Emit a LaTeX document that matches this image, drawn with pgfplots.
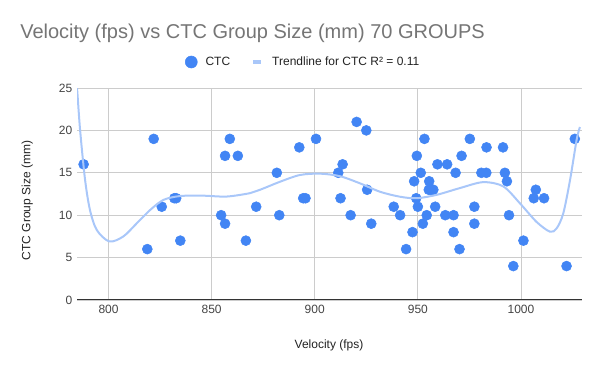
\documentclass[border=0pt]{standalone}
\usepackage{fontspec}
\setmainfont{Liberation Sans}
\usepackage{pgfplots}
\pgfplotsset{compat=1.18}
\definecolor{ctc}{HTML}{4285F4}
\definecolor{trend}{HTML}{A9C7F9}
\definecolor{titlegray}{HTML}{757575}
\definecolor{gridgray}{HTML}{CCCCCC}
\definecolor{ticktext}{HTML}{444444}
\definecolor{labeltext}{HTML}{222222}
\begin{document}
\begin{tikzpicture}
\useasboundingbox (0pt,0pt) rectangle (450pt,278.25pt);
\node[anchor=base west, inner sep=0pt, text=titlegray, font=\fontsize{15}{18}\selectfont] at (15pt,249pt) {Velocity (fps) vs CTC Group Size (mm) 70 GROUPS};
\node[rotate=90, inner sep=0pt, text=labeltext, font=\fontsize{9}{11}\selectfont] at (20.5pt,127.9pt) {CTC Group Size (mm)};
\node[anchor=base, inner sep=0pt, text=labeltext, font=\fontsize{9}{11}\selectfont] at (246.75pt,16.9pt) {Velocity (fps)};
\begin{axis}[
  at={(57.75pt,53.25pt)}, anchor=south west,
  scale only axis, width=378.75pt, height=159pt,
  xmin=784.7, xmax=1029.6, ymin=0, ymax=25,
  xtick={800,850,...,1000}, ytick={0,5,...,25},
  extra y ticks={0}, extra y tick labels={},
  extra y tick style={grid style={draw=black!80, line width=0.75pt}},
  grid=major, grid style={draw=gridgray, line width=0.6pt},
  axis line style={draw=none},
  major tick length=0pt,
  tick label style={font=\fontsize{9}{11}\selectfont, text=ticktext},
  /pgf/number format/assume math mode=true,
  /pgf/number format/1000 sep={},
  clip mode=individual,
  legend columns=2,
  legend style={at={(axis description cs:0.2139,1.1226)}, anchor=west, draw=none, fill=none,
    inner sep=0pt, outer sep=0pt,
    nodes={inner sep=0pt},
    font=\fontsize{9}{11}\selectfont, text=labeltext,
    /tikz/column 1/.style={column sep=6pt},
    /tikz/column 2/.style={column sep=15.75pt},
    /tikz/column 3/.style={column sep=6.75pt}},
]
\addplot[only marks, mark=*, mark size=3.75pt, mark options={draw=ctc, fill=ctc},
  legend image code/.code={\fill[ctc] (4.5pt,0pt) circle (4.5pt);}] coordinates {
(787.9,16) (818.8,6) (821.9,19) (825.8,11) (831.9,12) (832.8,12) (834.8,7)
(854.6,10) (856.5,9) (856.5,17) (858.8,19) (862.7,17) (866.6,7) (871.6,11)
(881.6,15) (882.8,10) (892.5,18) (894.4,12) (895.5,12) (900.6,19)
(911.4,15) (912.5,12) (913.5,16) (917.4,10) (920.3,21) (925.0,20) (925.4,13) (927.4,9)
(938.3,11) (941.4,10) (944.3,6) (947.4,8) (948.2,14) (949.5,17) (949.2,12) (950.0,11)
(951.4,15) (952.4,9) (953.2,19) (954.3,10) (955.5,14) (955.3,13) (956.4,13) (957.5,13)
(958.4,11) (959.5,16) (963.3,10) (964.2,16) (967.3,10) (967.3,8) (968.3,15)
(970.2,6) (971.2,17) (975.2,19) (977.4,11) (977.4,9) (980.8,15) (983.2,15) (983.3,18)
(991.3,18) (992.2,15) (993.2,14) (994.2,10) (996.3,4) (1001.2,7)
(1006.2,12) (1007.2,13) (1011.2,12) (1022.1,4) (1026.1,19)
};
\addlegendentry{CTC}
\addplot[trend, line width=1.5pt, smooth, tension=0.5, no marks,
  legend image code/.code={\draw[trend, line width=3pt] (0pt,0pt) -- (6pt,0pt);}] coordinates {
(784.0,26.0) (784.7,25.0) (786.2,20.05) (788.6,14.2) (791.0,10.6) (794.3,8.25)
(800.4,6.9) (807.2,7.5) (813.7,9.05) (820.1,10.6) (826.6,11.8) (834.7,12.26)
(846.0,12.3) (857.3,12.2) (868.6,12.6) (873.5,13.0) (883.2,13.95) (892.8,14.74)
(902.5,14.9) (912.2,14.6) (921.9,13.76) (931.6,12.77) (941.3,12.18) (949.4,12.0)
(959.1,12.4) (970.4,13.2) (981.7,13.9) (991.4,13.4) (999.5,11.4) (1007.6,9.2)
(1014.1,8.05) (1017.3,8.45) (1020.5,10.2) (1023.8,14.15) (1027.0,18.9) (1028.6,20.4)
};
\addlegendentry{Trendline for CTC R² = 0.11}
\end{axis}
\end{tikzpicture}
\end{document}
